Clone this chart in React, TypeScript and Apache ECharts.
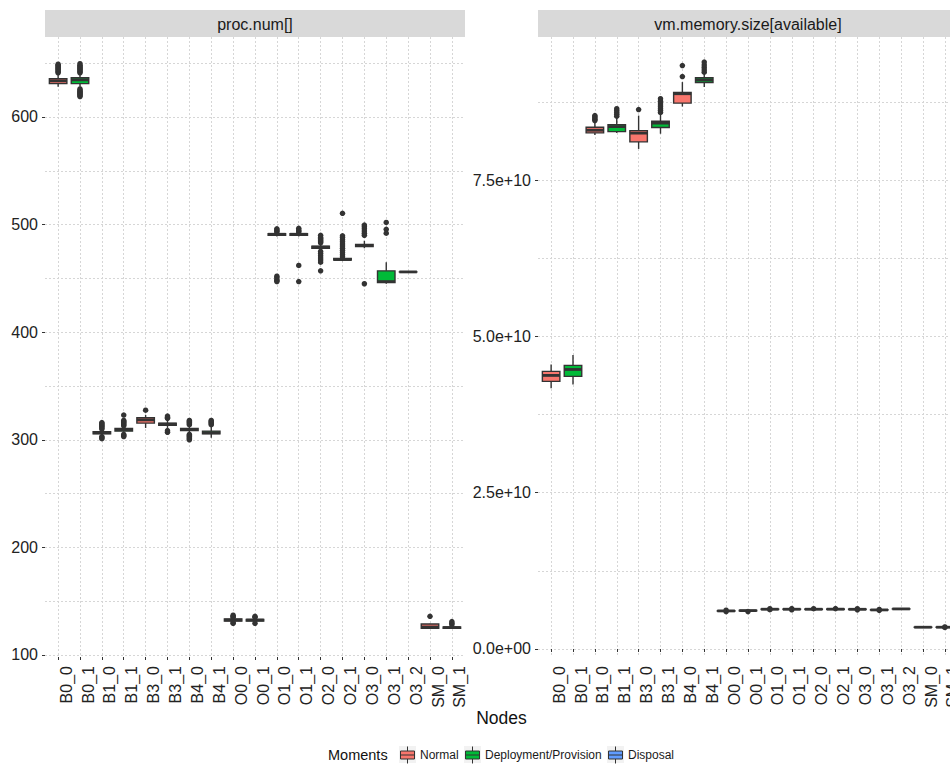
import React, { useEffect, useRef } from 'react';
import * as echarts from 'echarts';

const categories = ['B0_0', 'B0_1', 'B1_0', 'B1_1', 'B3_0', 'B3_1', 'B4_0', 'B4_1', 'O0_0', 'O0_1', 'O1_0', 'O1_1', 'O2_0', 'O2_1', 'O3_0', 'O3_1', 'O3_2', 'SM_0', 'SM_1'];
const momentNames = ['Normal', 'Deployment/Provision', 'Disposal'];
const momentColors = ['#F8766D', '#00BA38', '#619CFF'];
const nodeMoment = [0, 1, 0, 1, 0, 1, 0, 1, 0, 1, 0, 1, 0, 1, 0, 1, 2, 0, 1];
const panelTitles = ['proc.num[]', 'vm.memory.size[available]'];

// [lower whisker, Q1, median, Q3, upper whisker]
const procStats = [
  [628, 631, 633.5, 635.5, 639],
  [628, 631, 634.5, 636.5, 640],
  [304, 305.5, 306.5, 307.5, 309],
  [306, 308, 309.5, 310.5, 312],
  [311, 315.5, 318.5, 320.5, 323],
  [311, 313.5, 314.5, 315.5, 318],
  [306, 308.5, 309.5, 310.5, 313],
  [302, 305.5, 306.5, 308, 312],
  [130.5, 131.5, 132.5, 133.5, 134.5],
  [130.5, 131.5, 132.5, 133, 134],
  [489, 490, 491, 491.5, 492.5],
  [489, 490, 491, 491.5, 492.5],
  [476, 478, 479, 480, 482],
  [466, 467, 467.5, 468.5, 469],
  [478, 479.5, 480.5, 481.5, 485],
  [445, 446, 447, 457, 465],
  [456, 456, 456, 456, 456],
  [124.5, 124.8, 126, 128.8, 129],
  [124.5, 124.8, 125.5, 126, 126.5],
];
const procOutliers = [
  [641, 642, 643, 644, 645, 646, 647, 648, 649],
  [641, 642, 643, 644, 645, 646, 647, 648, 649.5, 619, 620, 621, 622, 623, 624, 625, 626],
  [310, 311, 312, 313, 314, 315, 316, 303, 302, 301],
  [313, 314, 315, 316, 317, 318, 323, 305, 304, 303],
  [327.5],
  [320, 321, 322, 307, 308.5],
  [314, 315, 316, 317, 318, 305, 304, 303, 302, 301, 300],
  [314, 315, 316, 317, 318],
  [135, 136, 137, 129.5, 130],
  [135, 136, 129.5],
  [493, 494, 495, 496, 452, 451, 449, 448, 447],
  [493, 494, 495, 496.5, 462, 447],
  [483, 484, 485, 486, 487, 488, 490, 475, 473, 471, 469, 467, 465, 457],
  [470, 472, 474, 476, 478, 480, 482, 484, 486, 488, 489.5, 510.5],
  [490, 492, 494, 496, 498, 499.5, 445],
  [492, 495.6, 502],
  [],
  [136],
  [128, 129.5, 131],
];

const memStats = [
  [4.17e10, 4.28e10, 4.375e10, 4.44e10, 4.55e10],
  [4.23e10, 4.36e10, 4.47e10, 4.535e10, 4.70e10],
  [8.22e10, 8.253e10, 8.296e10, 8.344e10, 8.425e10],
  [8.25e10, 8.274e10, 8.354e10, 8.386e10, 8.50e10],
  [7.997e10, 8.11e10, 8.25e10, 8.29e10, 8.53e10],
  [8.24e10, 8.34e10, 8.41e10, 8.44e10, 8.56e10],
  [8.675e10, 8.73e10, 8.88e10, 8.90e10, 9.066e10],
  [8.986e10, 9.06e10, 9.10e10, 9.135e10, 9.2e10],
  [0.60e10, 0.605e10, 0.609e10, 0.613e10, 0.618e10],
  [0.605e10, 0.61e10, 0.614e10, 0.618e10, 0.62e10],
  [0.63e10, 0.633e10, 0.636e10, 0.639e10, 0.642e10],
  [0.63e10, 0.633e10, 0.636e10, 0.639e10, 0.642e10],
  [0.63e10, 0.633e10, 0.636e10, 0.639e10, 0.642e10],
  [0.63e10, 0.633e10, 0.637e10, 0.64e10, 0.643e10],
  [0.628e10, 0.632e10, 0.635e10, 0.638e10, 0.641e10],
  [0.62e10, 0.623e10, 0.625e10, 0.628e10, 0.63e10],
  [0.639e10, 0.64e10, 0.641e10, 0.642e10, 0.643e10],
  [0.346e10, 0.347e10, 0.348e10, 0.349e10, 0.35e10],
  [0.345e10, 0.347e10, 0.348e10, 0.349e10, 0.351e10],
];
const memOutliers = [
  [],
  [],
  [8.45e10, 8.47e10, 8.49e10, 8.51e10, 8.53e10],
  [8.52e10, 8.55e10, 8.58e10, 8.61e10, 8.64e10],
  [8.627e10],
  [8.58e10, 8.61e10, 8.64e10, 8.67e10, 8.70e10, 8.73e10, 8.76e10, 8.80e10],
  [9.155e10, 9.33e10],
  [9.225e10, 9.26e10, 9.30e10, 9.34e10, 9.386e10],
  [0.598e10, 0.62e10],
  [0.598e10],
  [0.645e10, 0.628e10],
  [0.646e10, 0.627e10],
  [0.645e10],
  [0.646e10],
  [0.626e10, 0.644e10],
  [0.632e10, 0.618e10],
  [],
  [],
  [0.352e10, 0.344e10],
];

const procLabelTicks = [100, 200, 300, 400, 500, 600];
const procGridTicks = [100, 150, 200, 250, 300, 350, 400, 450, 500, 550, 600, 650];
const memLabelTicks = [0, 2.5e10, 5e10, 7.5e10];
const memGridTicks = [0, 1.25e10, 2.5e10, 3.75e10, 5e10, 6.25e10, 7.5e10, 8.75e10];
const procRange = [98.14, 674.3];
const memRange = [-0.128e10, 9.787e10];

const FONT = '"Liberation Sans", Arial, Helvetica, sans-serif';
const TEXT = '#222222';
const GRIDLINE = '#D6D6D6';
const INK = '#333333';

const panelLefts = [45, 538];
const PANEL_TOP = 37;
const PANEL_W = 420;
const PANEL_H = 620;

function renderBox(params: any, api: any) {
  const x = api.value(0);
  const lo = api.coord([x, api.value(1)]);
  const q1 = api.coord([x, api.value(2)]);
  const md = api.coord([x, api.value(3)]);
  const q3 = api.coord([x, api.value(4)]);
  const hi = api.coord([x, api.value(5)]);
  const w = api.size([1, 0])[0] * 0.8;
  const cx = lo[0];
  const fill = api.visual('color');
  return {
    type: 'group',
    children: [
      { type: 'line', shape: { x1: cx, y1: hi[1], x2: cx, y2: q3[1] }, style: { stroke: INK, lineWidth: 1.4 } },
      { type: 'line', shape: { x1: cx, y1: q1[1], x2: cx, y2: lo[1] }, style: { stroke: INK, lineWidth: 1.4 } },
      {
        type: 'rect',
        shape: { x: cx - w / 2, y: q3[1], width: w, height: Math.max(q1[1] - q3[1], 0.01) },
        style: { fill, stroke: INK, lineWidth: 1.4 },
      },
      { type: 'line', shape: { x1: cx - w / 2, y1: md[1], x2: cx + w / 2, y2: md[1] }, style: { stroke: INK, lineWidth: 2.8 } },
    ],
  };
}

function memFormat(v: number) {
  if (v === 0) return '0.0e+00';
  return v.toExponential(1).replace(/e([+-])(\d)$/, 'e$10$2');
}

export default function App() {
  const ref = useRef<HTMLDivElement>(null);
  useEffect(() => {
    if (!ref.current) return;
    const chart = echarts.init(ref.current, null, { renderer: 'svg' });

    const grids = panelLefts.map((l) => ({
      left: l,
      top: PANEL_TOP,
      width: PANEL_W,
      height: PANEL_H,
      containLabel: false,
      outerBoundsMode: 'none',
    }));

    const xAxes = [0, 1].map((g) => ({
      type: 'value',
      gridIndex: g,
      min: -0.6,
      max: 18.6,
      axisLine: { show: false },
      axisTick: {
        show: true,
        length: 3,
        lineStyle: { color: INK, width: 1 },
        customValues: categories.map((_, i) => i),
      },
      axisLabel: {
        show: true,
        rotate: 90,
        margin: 9,
        fontSize: 16,
        color: TEXT,
        fontFamily: FONT,
        verticalAlign: 'top',
        customValues: categories.map((_, i) => i),
        formatter: (v: number) => categories[Math.round(v)] ?? '',
      },
      splitLine: { show: true, lineStyle: { color: GRIDLINE, width: 1, type: [2, 2] } },
    }));

    const mkY = (g: number, range: number[], gridTicks: number[], labelTicks: number[], fmt: any) => [
      {
        type: 'value',
        gridIndex: g,
        position: 'left',
        min: range[0],
        max: range[1],
        axisLine: { show: false },
        axisTick: { show: false, customValues: gridTicks },
        axisLabel: {
          show: true,
          margin: 7,
          fontSize: 16,
          color: TEXT,
          fontFamily: FONT,
          customValues: labelTicks,
          formatter: fmt,
        },
        splitLine: { show: true, lineStyle: { color: GRIDLINE, width: 1, type: [2, 2] } },
      },
      {
        type: 'value',
        gridIndex: g,
        position: 'left',
        min: range[0],
        max: range[1],
        axisLine: { show: false },
        axisTick: { show: true, length: 3, lineStyle: { color: INK, width: 1 }, customValues: labelTicks },
        axisLabel: { show: false },
        splitLine: { show: false },
      },
    ];

    const yAxes = [
      ...mkY(0, procRange, procGridTicks, procLabelTicks, (v: number) => String(Math.round(v))),
      ...mkY(1, memRange, memGridTicks, memLabelTicks, memFormat),
    ];

    const series: any[] = [];
    const panels = [
      { stats: procStats, outliers: procOutliers },
      { stats: memStats, outliers: memOutliers },
    ];
    panels.forEach((p, g) => {
      momentNames.forEach((name, m) => {
        series.push({
          type: 'custom',
          name,
          xAxisIndex: g,
          yAxisIndex: g * 2,
          itemStyle: { color: momentColors[m], borderColor: INK, borderWidth: 1 },
          encode: { x: 0, y: [1, 2, 3, 4, 5] },
          data: p.stats
            .map((s, i) => (nodeMoment[i] === m ? [i, ...s] : null))
            .filter((d) => d !== null),
          renderItem: renderBox,
          silent: true,
          z: 2,
        });
      });
      series.push({
        type: 'scatter',
        name: 'outliers',
        xAxisIndex: g,
        yAxisIndex: g * 2,
        symbol: 'circle',
        symbolSize: 5.5,
        itemStyle: { color: INK, opacity: 1 },
        data: p.outliers.flatMap((arr, i) => arr.map((v) => [i, v])),
        silent: true,
        z: 3,
      });
    });

    const keyLefts = [399, 464, 607];
    const graphic: any[] = [];
    panelLefts.forEach((l, g) => {
      graphic.push({
        type: 'rect',
        shape: { x: l, y: 10, width: PANEL_W, height: 27 },
        style: { fill: '#D9D9D9' },
        z: 0,
      });
      graphic.push({
        type: 'text',
        x: l + PANEL_W / 2,
        y: 24,
        style: {
          text: panelTitles[g],
          fontSize: 16,
          fontFamily: FONT,
          fill: '#1A1A1A',
          align: 'center',
          verticalAlign: 'middle',
        },
        z: 1,
      });
    });
    graphic.push({
      type: 'text',
      x: 501.5,
      y: 718,
      style: { text: 'Nodes', fontSize: 17.5, fontFamily: FONT, fill: '#111', align: 'center', verticalAlign: 'middle' },
    });
    graphic.push({
      type: 'text',
      x: 328,
      y: 755,
      style: { text: 'Moments', fontSize: 14.5, fontFamily: FONT, fill: '#111', align: 'left', verticalAlign: 'middle' },
    });
    keyLefts.forEach((kx) => {
      graphic.push({
        type: 'rect',
        shape: { x: kx, y: 746, width: 17, height: 17 },
        style: { fill: '#F2F2F2' },
        z: 0,
      });
    });

    const legends = momentNames.map((n, k) => ({
      data: [n],
      left: keyLefts[k] + 1,
      top: 746,
      padding: 0,
      itemWidth: 15,
      itemHeight: 17,
      selectedMode: false,
      icon: 'path://M0,4.5H14V12.5H0Z M7,0V4.5 M7,12.5V17 M0,8.5H14',
      itemStyle: { borderColor: INK, borderWidth: 1 },
      textStyle: { fontSize: 12, color: '#1A1A1A', fontFamily: FONT, padding: [0, 0, 0, 0] },
      z: 5,
    }));

    chart.setOption({
      animation: false,
      backgroundColor: '#FFFFFF',
      textStyle: { fontFamily: FONT },
      grid: grids,
      xAxis: xAxes,
      yAxis: yAxes,
      legend: legends,
      graphic,
      series,
    } as any);

    return () => chart.dispose();
  }, []);

  return (
    <div
      ref={ref}
      style={{ position: 'absolute', left: 0, top: 0, width: 950, height: 765, overflow: 'hidden', background: '#fff' }}
    />
  );
}
